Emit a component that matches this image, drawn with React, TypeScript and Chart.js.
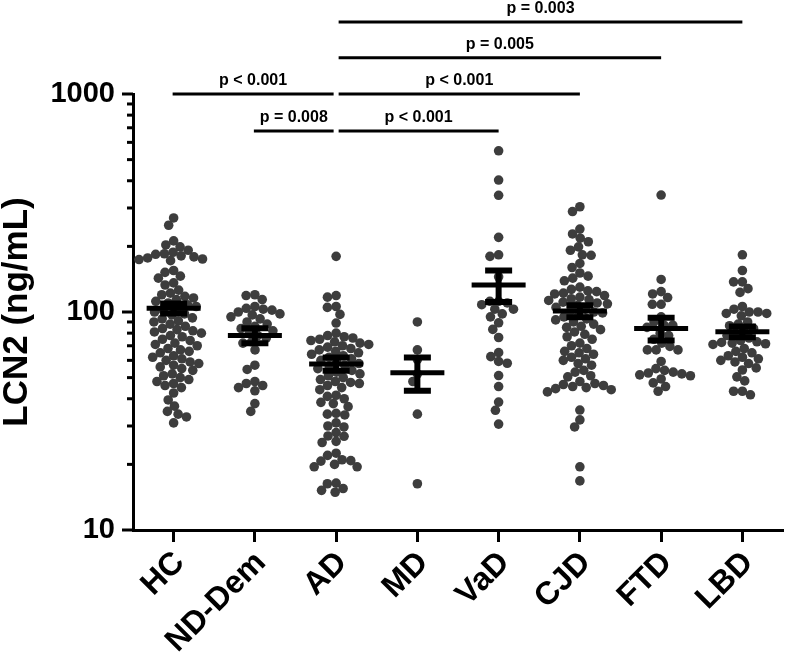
import { useEffect, useRef } from 'react';
import { Chart, registerables } from 'chart.js';

Chart.register(...registerables);

const categories = ['HC', 'ND-Dem', 'AD', 'MD', 'VaD', 'CJD', 'FTD', 'LBD'];

const hcValues = [
  270, 250, 212, 203, 199, 192, 188, 185, 181, 177, 174, 172, 175, 179, 184,
  155, 152, 146, 143, 136, 133, 126, 122, 120, 118, 116, 114, 112, 110, 108, 106,
  104, 102, 100, 98, 97, 94, 93, 91, 90, 88, 86, 84, 83, 82, 81, 80, 78, 77, 75,
  74, 72, 71, 70, 68, 67, 66, 65, 63, 62, 61, 60, 59, 58, 57, 56, 55, 54, 52, 51,
  50, 49, 48, 47, 46, 45, 42.5, 39.5, 37, 35, 34, 33, 31,
];
const ndDemValues = [
  120, 119, 114, 106, 104, 103, 102, 100, 98, 97, 95, 93, 90, 88, 86, 84, 82, 80,
  78, 76, 73, 72, 67, 57, 54.5, 48, 47, 46, 45, 43.5, 38, 35,
];
const adValues = [
  180, 119, 117, 106, 105, 97.5, 89, 80, 78, 77, 76, 75, 74, 73, 72, 71, 70, 69, 68,
  67, 66, 65, 64, 63, 62, 61, 60, 59, 58, 57, 56, 55, 54, 53, 52, 51, 50, 49, 48,
  47.5, 47, 46, 45, 44, 41.5, 41, 40, 38.5, 38, 36.8, 34.3, 34, 33.7, 31, 30, 29.7,
  28, 27, 26.9, 25.5, 25.2, 22.5, 22, 21, 20.8, 20.7, 20, 19.5, 19.5, 16.4, 16.3,
  15.5, 15.2, 14.9,
];
const mdValues = [90, 67, 60.5, 52, 48, 34, 16.3];
const vadValues = [
  549, 403, 343, 220, 183, 180, 145, 112, 112, 110, 108, 103, 103, 98, 95, 89.2,
  83.2, 76.4, 65.1, 62.4, 59.3, 58.2, 51.1, 45.5, 38.6, 35.4, 30.6,
];
const cjdValues = [
  304, 289, 240, 228, 218, 210, 199, 192, 183, 182, 167, 160, 151, 146, 143, 139,
  130, 127, 125, 124, 122, 121, 119, 117, 115, 114, 113, 111, 110, 109, 107, 105,
  103, 101, 100, 99, 97, 95, 93, 92, 90, 88, 86, 85, 83, 81, 79, 77, 75, 72, 70,
  68, 66, 65, 64, 62, 61, 60, 58, 57, 54, 53, 51, 50.4, 48, 47, 46.5, 46, 45.5, 45,
  44.5, 44, 43, 35.5, 32, 29.7, 19.5, 16.8,
];
const ftdValues = [
  344, 141, 124, 121, 116.5, 108.5, 108.5, 95, 90, 87, 87, 85, 80, 78, 75, 72,
  69.5, 67, 67, 67, 59.3, 55, 54, 53, 52.5, 52, 51.5, 51, 49.3, 47.3, 45.5, 43.3,
];
const lbdValues = [
  183, 155, 137.5, 137.5, 128, 123, 106, 103, 100, 100, 98.5, 98.5, 96, 90, 88,
  86.5, 84, 82, 80, 78, 76, 74, 73, 72.5, 72, 71.5, 71, 68, 66, 65, 63, 62, 61, 60,
  59, 58, 55.4, 54.2, 50.4, 48.3, 43.3, 43.3, 41.7,
];

const groupValues = [
  hcValues, ndDemValues, adValues, mdValues, vadValues, cjdValues, ftdValues, lbdValues,
];

const meanValues = [104, 78, 57.8, 52.7, 133, 101, 84, 81.2];
const semValues = [5.5, 6.2, 4, 9.2, 22, 6.5, 10, 4.6];

const yTicks = [10, 100, 1000];
const yMinorTicks = [20, 30, 40, 50, 60, 70, 80, 90, 200, 300, 400, 500, 600, 700, 800, 900];

const bracketFrom = [0, 1, 2, 2, 2, 2];
const bracketTo = [2, 2, 4, 5, 6, 7];
const bracketLevel = [1000, 676, 676, 1000, 1467, 2142];
const bracketLabels = ['p < 0.001', 'p = 0.008', 'p < 0.001', 'p < 0.001', 'p = 0.005', 'p = 0.003'];

const FONT = "'Liberation Sans', Arial, Helvetica, sans-serif";
const DOT_COLOR = '#3d3d3d';

function swarmOffsets(yPix: number[], d: number): number[] {
  const order = yPix.map((_, i) => i).sort((a, b) => yPix[a] - yPix[b]);
  const placed: { x: number; y: number }[] = [];
  const offsets = new Array(yPix.length).fill(0);
  for (const i of order) {
    const y = yPix[i];
    const near = placed.filter((p) => Math.abs(p.y - y) < d);
    const cands = [0];
    for (const p of near) {
      const dx = Math.sqrt(d * d - (p.y - y) * (p.y - y));
      cands.push(p.x - dx, p.x + dx);
    }
    cands.sort((a, b) => Math.abs(a) - Math.abs(b));
    let best = 0;
    for (const c of cands) {
      if (near.every((p) => (p.x - c) ** 2 + (p.y - y) ** 2 >= d * d - 0.01)) {
        best = c;
        break;
      }
    }
    placed.push({ x: best, y });
    offsets[i] = best;
  }
  return offsets;
}

const overlayPlugin = {
  id: 'overlay',
  afterDatasetsDraw(chart: any) {
    const { ctx } = chart;
    const xs = chart.scales.x;
    const ys = chart.scales.y;
    ctx.save();
    ctx.strokeStyle = '#000';
    ctx.lineCap = 'butt';
    meanValues.forEach((m, i) => {
      const cx = xs.getPixelForValue(i);
      const ym = ys.getPixelForValue(m);
      const yt = ys.getPixelForValue(m + semValues[i]);
      const yb = ys.getPixelForValue(m - semValues[i]);
      ctx.lineWidth = 6;
      ctx.beginPath();
      ctx.moveTo(cx, yt);
      ctx.lineTo(cx, yb);
      ctx.moveTo(cx - 13.5, yt);
      ctx.lineTo(cx + 13.5, yt);
      ctx.moveTo(cx - 13.5, yb);
      ctx.lineTo(cx + 13.5, yb);
      ctx.stroke();
      ctx.lineWidth = 5;
      ctx.beginPath();
      ctx.moveTo(cx - 27, ym);
      ctx.lineTo(cx + 27, ym);
      ctx.stroke();
    });
    ctx.restore();
  },
  afterDraw(chart: any) {
    const { ctx, chartArea } = chart;
    const xs = chart.scales.x;
    const ys = chart.scales.y;
    ctx.save();
    ctx.strokeStyle = '#000';
    ctx.lineWidth = 3;
    ctx.lineCap = 'butt';
    const left = chartArea.left;
    yTicks.forEach((v) => {
      const y = ys.getPixelForValue(v);
      ctx.beginPath();
      ctx.moveTo(left - 11, y);
      ctx.lineTo(left, y);
      ctx.stroke();
    });
    yMinorTicks.forEach((v) => {
      const y = ys.getPixelForValue(v);
      ctx.beginPath();
      ctx.moveTo(left - 6, y);
      ctx.lineTo(left, y);
      ctx.stroke();
    });
    ctx.fillStyle = '#000';
    ctx.font = `bold 16px ${FONT}`;
    ctx.textAlign = 'center';
    ctx.textBaseline = 'alphabetic';
    bracketLabels.forEach((label, k) => {
      const x1 = xs.getPixelForValue(bracketFrom[k]) + (bracketFrom[k] === 2 ? 2.5 : -1);
      const x2 = xs.getPixelForValue(bracketTo[k]) - (bracketTo[k] === 2 ? 2.5 : 0);
      const y = ys.getPixelForValue(bracketLevel[k]);
      ctx.beginPath();
      ctx.moveTo(x1, y);
      ctx.lineTo(x2, y);
      ctx.stroke();
      ctx.fillText(label, (x1 + x2) / 2, y - 9);
    });
    ctx.restore();
  },
};

export default function App() {
  const canvasRef = useRef<HTMLCanvasElement | null>(null);

  useEffect(() => {
    const canvas = canvasRef.current;
    if (!canvas) return;
    Chart.defaults.font.family = FONT;

    const datasets = groupValues.map((vals, g) => ({
      label: categories[g],
      data: vals.map((v) => ({ x: g, y: v })),
      backgroundColor: DOT_COLOR,
      borderWidth: 0,
      pointRadius: 4.8,
      pointHoverRadius: 4.8,
      clip: false as any,
    }));

    const chart = new Chart(canvas, {
      type: 'scatter',
      data: { datasets },
      plugins: [overlayPlugin],
      options: {
        responsive: false,
        animation: false,
        events: [],
        layout: { padding: { top: 94, right: 5, left: 0, bottom: 0 } },
        plugins: { legend: { display: false }, tooltip: { enabled: false } },
        scales: {
          x: {
            type: 'linear',
            min: -0.5,
            max: 7.5,
            afterBuildTicks: (s: any) => {
              s.ticks = categories.map((_, i) => ({ value: i }));
            },
            afterFit: (s: any) => {
              s.height = 129;
              s.paddingLeft = 0;
              s.paddingRight = 0;
            },
            ticks: {
              autoSkip: false,
              minRotation: 45,
              maxRotation: 45,
              padding: 2,
              labelOffset: 6,
              color: '#000',
              font: { size: 32, weight: 'bold' },
              callback: (v: any) => categories[Math.round(Number(v))] ?? '',
            },
            grid: {
              drawOnChartArea: false,
              drawTicks: true,
              tickLength: 12,
              tickWidth: 3,
              tickColor: '#000',
            },
            border: { display: true, width: 3, color: '#000' },
          },
          y: {
            type: 'logarithmic',
            min: 10,
            max: 1000,
            afterBuildTicks: (s: any) => {
              s.ticks = yTicks.map((v) => ({ value: v }));
            },
            afterFit: (s: any) => {
              s.width = 133;
            },
            ticks: {
              padding: 8,
              color: '#000',
              font: { size: 29, weight: 'bold' },
              callback: (v: any) => String(v),
            },
            grid: {
              drawOnChartArea: false,
              drawTicks: true,
              tickLength: 10,
              tickColor: 'rgba(0,0,0,0)',
            },
            border: { display: true, width: 3, color: '#000' },
            title: {
              display: true,
              text: 'LCN2 (ng/mL)',
              color: '#000',
              font: { size: 35, weight: 'bold', lineHeight: 1 },
              padding: { top: 0, bottom: 0 },
            },
          },
        },
      } as any,
    });

    const xs: any = chart.scales.x;
    const ys: any = chart.scales.y;
    const unit = xs.getPixelForValue(1) - xs.getPixelForValue(0);
    groupValues.forEach((vals, g) => {
      const yp = vals.map((v) => ys.getPixelForValue(v));
      const off = swarmOffsets(yp, 8.8);
      (chart.data.datasets[g] as any).data = vals.map((v, k) => ({ x: g + off[k] / unit, y: v }));
    });
    chart.update('none');

    return () => {
      chart.destroy();
    };
  }, []);

  return (
    <div style={{ position: 'absolute', left: 0, top: 0, width: 788, height: 659, background: '#fff' }}>
      <canvas ref={canvasRef} width={788} height={659} style={{ display: 'block' }} />
    </div>
  );
}
